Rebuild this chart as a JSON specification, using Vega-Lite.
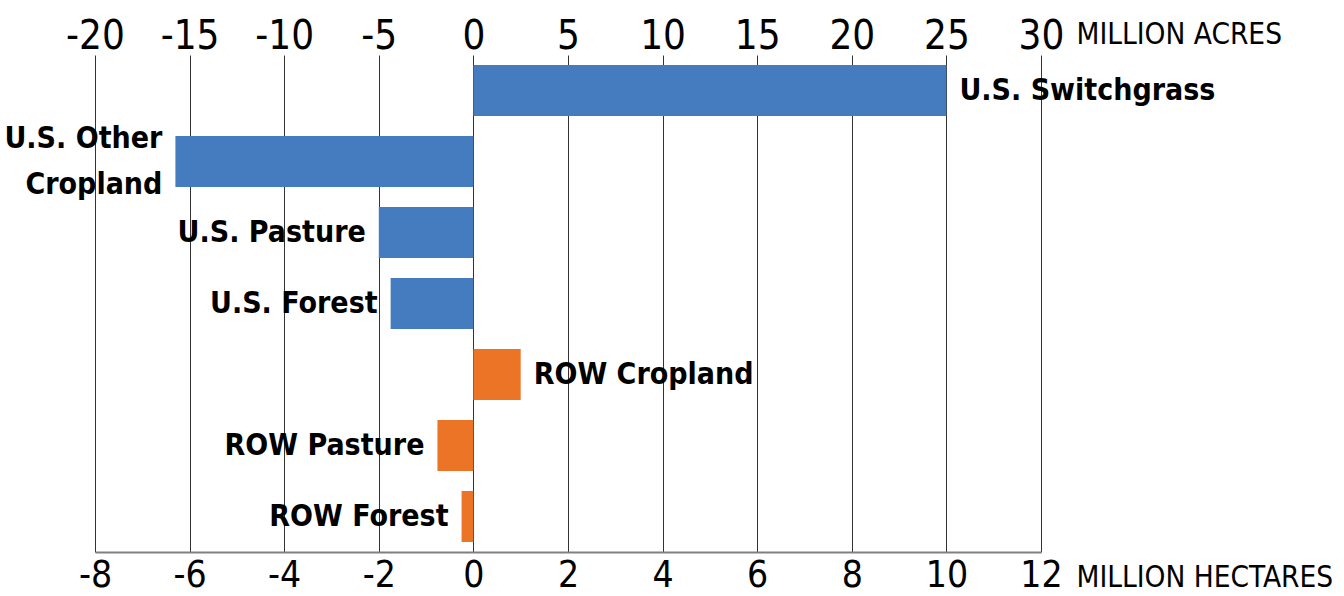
{
  "$schema": "https://vega.github.io/schema/vega-lite/v6.json",
  "width": 946,
  "height": 497,
  "autosize": {"type": "none"},
  "padding": {"left": 95, "top": 55, "right": 303, "bottom": 44},
  "background": "white",
  "config": {"view": {"stroke": null}, "font": "DejaVu Sans Condensed, DejaVu Sans, sans-serif"},
  "datasets": {
    "bars": [
      {"name": "U.S. Switchgrass", "label": "U.S. Switchgrass", "region": "US", "ha": 10.0, "lines": 1},
      {"name": "U.S. Other Cropland", "label": "U.S. Other\nCropland", "region": "US", "ha": -6.3, "lines": 2},
      {"name": "U.S. Pasture", "label": "U.S. Pasture", "region": "US", "ha": -2.0, "lines": 1},
      {"name": "U.S. Forest", "label": "U.S.  Forest", "region": "US", "ha": -1.75, "lines": 1},
      {"name": "ROW Cropland", "label": "ROW Cropland", "region": "ROW", "ha": 1.0, "lines": 1},
      {"name": "ROW Pasture", "label": "ROW Pasture", "region": "ROW", "ha": -0.76, "lines": 1},
      {"name": "ROW Forest", "label": "ROW Forest", "region": "ROW", "ha": -0.25, "lines": 1}
    ],
    "acres": [{"acres": -20}, {"acres": 30}]
  },
  "layer": [
    {
      "data": {"name": "bars"},
      "mark": {"type": "bar"},
      "encoding": {
        "y": {"field": "name", "type": "nominal", "sort": null, "axis": null,
              "scale": {"paddingInner": 0.282, "paddingOuter": 0.141}},
        "x": {"field": "ha", "type": "quantitative",
              "scale": {"domain": [-8, 12], "nice": false, "zero": false},
              "axis": {
                "orient": "bottom",
                "values": [-8, -6, -4, -2, 0, 2, 4, 6, 8, 10, 12],
                "labelExpr": "'' + datum.value",
                "labelOverlap": false, "labelFlush": false,
                "grid": true, "gridColor": "#333333", "gridWidth": 1,
                "ticks": false, "tickSize": 0,
                "domain": true, "domainColor": "#808080", "domainWidth": 2,
                "labelFontSize": 37, "labelColor": "#000000",
                "labelBaseline": "alphabetic", "labelPadding": 34,
                "title": "MILLION HECTARES", "titleFontSize": 29.5, "titleFontWeight": "normal",
                "titleColor": "#000000", "titleAlign": "left", "titleBaseline": "alphabetic",
                "titleX": 981, "titleY": 34
              }},
        "color": {"field": "region", "type": "nominal",
                  "scale": {"domain": ["US", "ROW"], "range": ["#457CBF", "#EB7426"]},
                  "legend": null}
      }
    },
    {
      "data": {"name": "bars"},
      "transform": [{"filter": "datum.ha > 0"}],
      "mark": {"type": "text", "align": "left", "baseline": "middle", "dx": 13,
               "fontSize": 30, "fontWeight": "bold", "color": "#000000"},
      "encoding": {
        "y": {"field": "name", "type": "nominal", "sort": null, "axis": null},
        "x": {"field": "ha", "type": "quantitative",
              "scale": {"domain": [-8, 12], "nice": false, "zero": false}, "axis": null},
        "text": {"field": "label", "type": "nominal"}
      }
    },
    {
      "data": {"name": "bars"},
      "transform": [{"filter": "datum.ha < 0 && datum.lines == 1"}],
      "mark": {"type": "text", "align": "right", "baseline": "middle", "dx": -13,
               "fontSize": 30, "fontWeight": "bold", "color": "#000000"},
      "encoding": {
        "y": {"field": "name", "type": "nominal", "sort": null, "axis": null},
        "x": {"field": "ha", "type": "quantitative",
              "scale": {"domain": [-8, 12], "nice": false, "zero": false}, "axis": null},
        "text": {"field": "label", "type": "nominal"}
      }
    },
    {
      "data": {"name": "bars"},
      "transform": [{"filter": "datum.lines == 2"}],
      "mark": {"type": "text", "align": "right", "baseline": "middle", "dx": -13, "dy": -23,
               "fontSize": 30, "fontWeight": "bold", "color": "#000000", "lineBreak": "\n", "lineHeight": 46},
      "encoding": {
        "y": {"field": "name", "type": "nominal", "sort": null, "axis": null},
        "x": {"field": "ha", "type": "quantitative",
              "scale": {"domain": [-8, 12], "nice": false, "zero": false}, "axis": null},
        "text": {"field": "label", "type": "nominal"}
      }
    },
    {
      "data": {"name": "acres"},
      "mark": {"type": "point", "opacity": 0},
      "encoding": {
        "x": {"field": "acres", "type": "quantitative",
              "scale": {"domain": [-20, 30], "nice": false, "zero": false},
              "axis": {
                "orient": "top",
                "values": [-20, -15, -10, -5, 0, 5, 10, 15, 20, 25, 30],
                "labelExpr": "'' + datum.value",
                "labelOverlap": false, "labelFlush": false,
                "grid": false, "ticks": false, "tickSize": 0, "domain": false,
                "labelFontSize": 40, "labelColor": "#000000",
                "labelBaseline": "alphabetic", "labelPadding": 7,
                "title": "MILLION ACRES", "titleFontSize": 29.5, "titleFontWeight": "normal",
                "titleColor": "#000000", "titleAlign": "left", "titleBaseline": "alphabetic",
                "titleX": 981, "titleY": -12
              }}
      }
    }
  ],
  "resolve": {"scale": {"x": "independent"}, "axis": {"x": "independent"}}
}
